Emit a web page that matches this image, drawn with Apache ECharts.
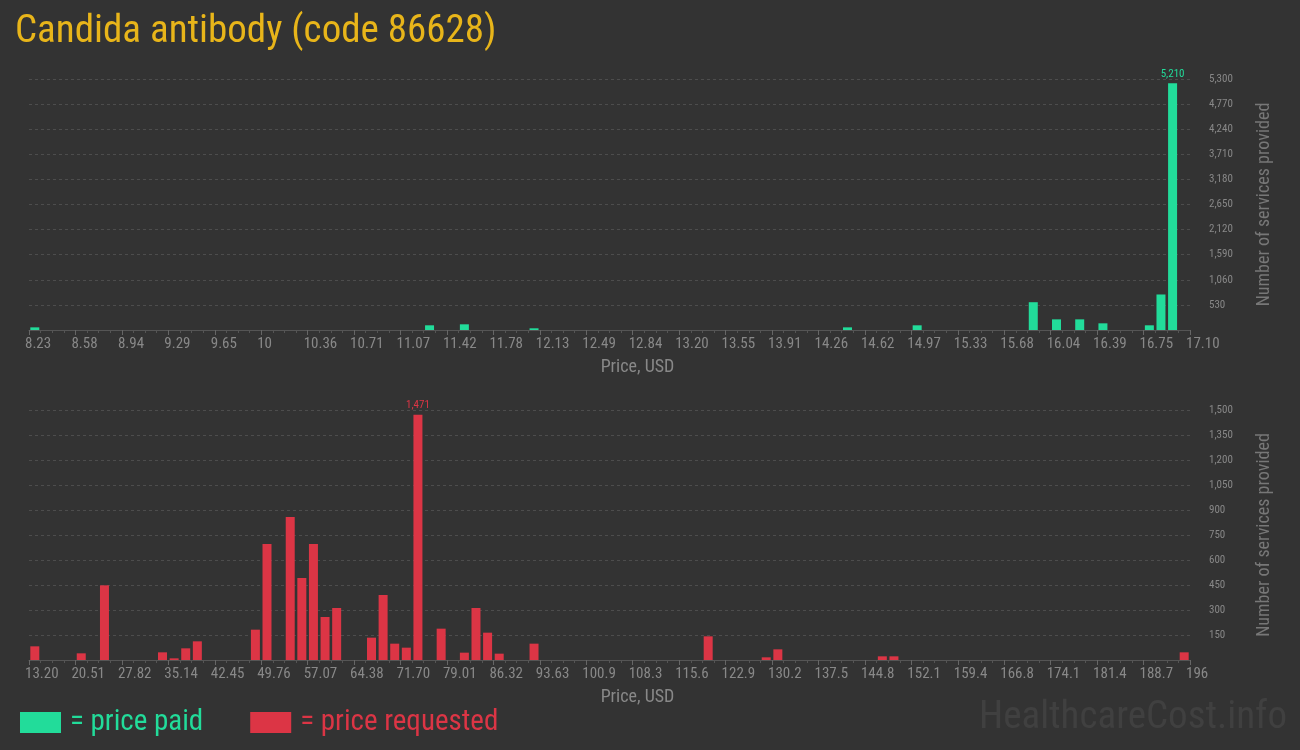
<!DOCTYPE html>
<html><head><meta charset="utf-8">
<script src="https://cdn.jsdelivr.net/npm/echarts/dist/echarts.min.js"></script>
<style>html,body{margin:0;padding:0;background:#333333;}#c{width:1300px;height:750px;}</style>
</head><body><div id="c"></div>
<script>
const FONT = "'Roboto Condensed','Liberation Sans Narrow','DejaVu Sans Condensed',Roboto,sans-serif";
const GREEN = '#22dc9a';
const RED = '#dc3545';

const titleText = 'Candida antibody (code 86628)';
const paidTickLabels = ['8.23','8.58','8.94','9.29','9.65','10','10.36','10.71','11.07','11.42','11.78','12.13','12.49','12.84','13.20','13.55','13.91','14.26','14.62','14.97','15.33','15.68','16.04','16.39','16.75','17.10'];
const requestedTickLabels = ['13.20','20.51','27.82','35.14','42.45','49.76','57.07','64.38','71.70','79.01','86.32','93.63','100.9','108.3','115.6','122.9','130.2','137.5','144.8','152.1','159.4','166.8','174.1','181.4','188.7','196'];

// bin index (100 bins per chart) and number of services in that bin
const paidBins   = [0, 34, 37, 43, 70, 76, 86, 88, 90, 92, 96, 97, 98];
const paidCounts = [56, 99, 120, 36, 56, 99, 587, 225, 225, 141, 99, 750, 5210];

const requestedBins   = [0, 4, 6, 11, 12, 13, 14, 19, 20, 22, 23, 24, 25, 26, 29, 30, 31, 32, 33, 35, 37, 38, 39, 40, 43, 58, 63, 64, 73, 74, 99];
const requestedCounts = [82, 40, 448, 46, 10, 70, 112, 182, 696, 858, 492, 696, 258, 312, 134, 390, 98, 74, 1471, 188, 44, 312, 164, 38, 98, 142, 16, 64, 22, 22, 46];

const paidYMax = 5300, paidYStep = 530;
const reqYMax = 1500, reqYStep = 150;
const BINS = 100, BINS_PER_LABEL = 4;

function buildData(bins, counts, color) {
  const maxV = Math.max(...counts);
  return bins.map((b, i) => {
    const item = { value: [b + 0.5, counts[i]] };
    if (counts[i] === maxV) {
      item.label = { show: true, position: 'top', distance: 4, color: color, fontSize: 11, fontFamily: FONT,
        formatter: p => p.value[1].toLocaleString('en-US') };
    }
    return item;
  });
}

function xAxisCfg(idx, labels) {
  return {
    gridIndex: idx, type: 'value', min: 0, max: BINS, interval: BINS_PER_LABEL,
    axisLine: { show: true, lineStyle: { color: '#555555', width: 1 } },
    axisTick: { show: true, length: 5, lineStyle: { color: '#666666' } },
    minorTick: { show: true, splitNumber: BINS_PER_LABEL, length: 3, lineStyle: { color: '#555555' } },
    splitLine: { show: false },
    axisLabel: { show: true, color: '#888888', fontSize: 15, fontFamily: FONT, align: 'left', margin: 7,
      padding: [0, 0, 0, -4], showMinLabel: true, showMaxLabel: true, hideOverlap: false,
      formatter: v => labels[Math.round(v / BINS_PER_LABEL)] || '' },
    name: 'Price, USD', nameLocation: 'middle', nameGap: 28,
    nameTextStyle: { color: '#888888', fontSize: 18, fontFamily: FONT, padding: [0, 0, 0, 56] }
  };
}

function yAxisCfg(idx, max, step) {
  return {
    gridIndex: idx, type: 'value', position: 'right', min: 0, max: max, interval: step,
    axisLine: { show: false }, axisTick: { show: false },
    axisLabel: { showMinLabel: false, color: '#888888', fontSize: 11, fontFamily: FONT, align: 'left', margin: 19,
      formatter: v => v.toLocaleString('en-US') },
    splitLine: { show: true, lineStyle: { color: '#4d4d4d', type: [3, 3], width: 1 } },
    name: 'Number of services provided', nameLocation: 'middle', nameRotate: 90, nameGap: 65,
    nameTextStyle: { color: '#777777', fontSize: 18, fontFamily: FONT }
  };
}

const chart = echarts.init(document.getElementById('c'), null, { renderer: 'canvas' });
chart.setOption({
  backgroundColor: '#333333',
  animation: false,
  title: { text: titleText, left: 10, top: 8, textStyle: { color: '#e8b51a', fontSize: 39, fontWeight: 'normal', fontFamily: FONT } },
  legend: {
    left: 15, top: 703, itemWidth: 41, itemHeight: 21, itemGap: 47, icon: 'rect', selectedMode: false,
    data: [
      { name: '= price paid', textStyle: { color: GREEN } },
      { name: '= price requested', textStyle: { color: RED } }
    ],
    textStyle: { fontSize: 29, fontFamily: FONT, padding: [0, 0, 0, 4] }
  },
  graphic: [{
    type: 'text', right: 13, top: 699,
    style: { text: 'HealthcareCost.info', fill: '#404040', font: "39px " + FONT }
  }],
  grid: [
    { left: 29, width: 1161, top: 79, height: 251 },
    { left: 29, width: 1161, top: 410, height: 250 }
  ],
  xAxis: [xAxisCfg(0, paidTickLabels), xAxisCfg(1, requestedTickLabels)],
  yAxis: [yAxisCfg(0, paidYMax, paidYStep), yAxisCfg(1, reqYMax, reqYStep)],
  series: [
    { name: '= price paid', type: 'bar', xAxisIndex: 0, yAxisIndex: 0, barWidth: 9,
      itemStyle: { color: GREEN }, data: buildData(paidBins, paidCounts, GREEN) },
    { name: '= price requested', type: 'bar', xAxisIndex: 1, yAxisIndex: 1, barWidth: 9,
      itemStyle: { color: RED }, data: buildData(requestedBins, requestedCounts, RED) }
  ]
});
</script>
</body></html>
